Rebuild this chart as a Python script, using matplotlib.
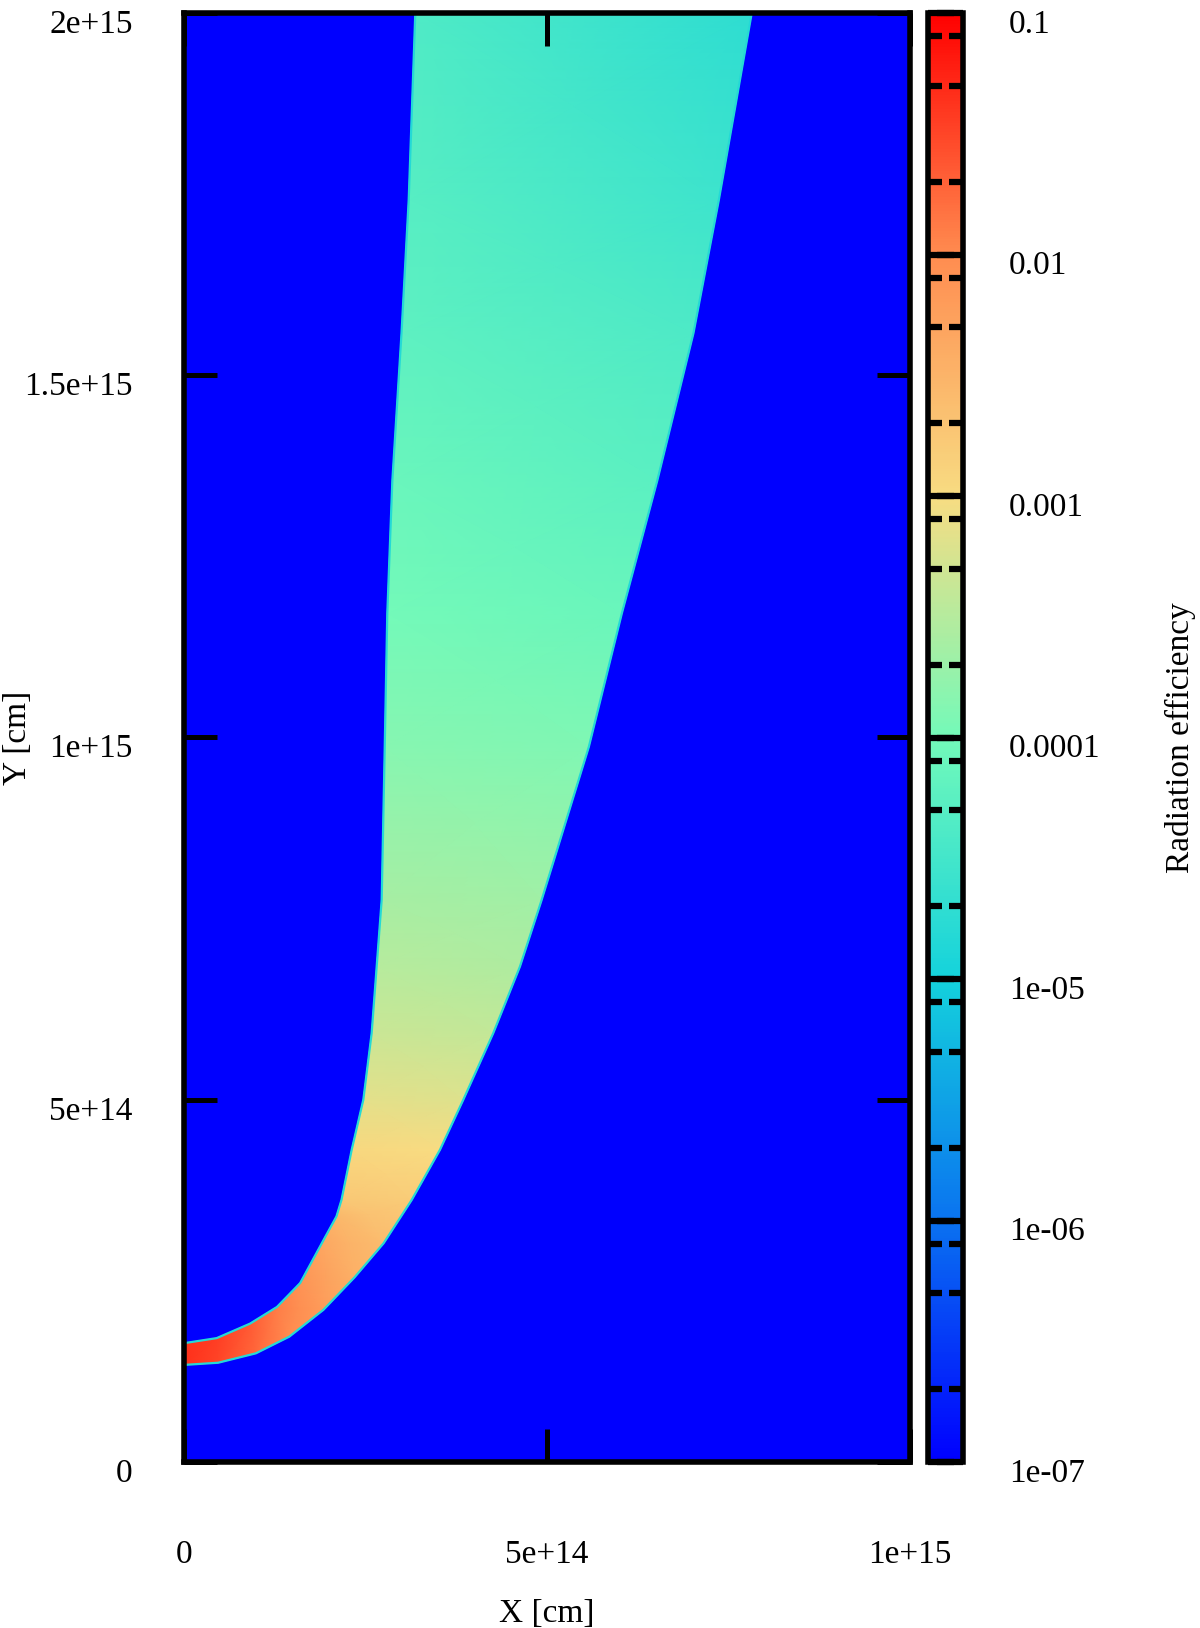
import numpy as np
import matplotlib
matplotlib.use("Agg")
import matplotlib.pyplot as plt
from matplotlib.colors import LinearSegmentedColormap, LogNorm
from matplotlib.transforms import ScaledTranslation

# ---------------- data ----------------
# band boundaries, units of 1e15 cm, matched station by station
upper_x = [0.000, 0.045, 0.091, 0.128, 0.160, 0.192, 0.210, 0.217, 0.231, 0.247,
           0.2585, 0.2654, 0.2723, 0.2765, 0.280, 0.287, 0.2996, 0.3095, 0.3186]
upper_y = [0.164, 0.171, 0.191, 0.214, 0.247, 0.306, 0.339, 0.362, 0.431, 0.500,
           0.592, 0.684, 0.776, 0.987, 1.171, 1.355, 1.558, 1.742, 2.000]
lower_x = [0.000, 0.047, 0.099, 0.145, 0.192, 0.235, 0.275, 0.3136, 0.3526, 0.3847,
           0.426, 0.4628, 0.4927, 0.5576, 0.603, 0.652, 0.7017, 0.7367, 0.782]
lower_y = [0.134, 0.137, 0.150, 0.173, 0.210, 0.255, 0.302, 0.3616, 0.431, 0.500,
           0.592, 0.684, 0.776, 0.987, 1.171, 1.355, 1.558, 1.742, 2.000]
# radiation efficiency along the upper/left and lower/right boundary
eff_upper = [0.0447, 0.0355, 0.0224, 0.0126, 0.00794, 0.00447, 0.00282, 0.00178, 0.00112,
             7.1e-4, 4.5e-4, 3.2e-4, 2.5e-4, 1.4e-4, 1.0e-4, 7.9e-5, 6.0e-5, 5.0e-5, 4.2e-5]
eff_lower = [0.0447, 0.0316, 0.0178, 0.0100, 0.00631, 0.00355, 0.00251, 0.00158, 0.00100,
             6.3e-4, 4.0e-4, 2.8e-4, 2.2e-4, 1.26e-4, 7.9e-5, 5.6e-5, 4.0e-5, 2.8e-5, 1.9e-5]
background_eff = 1e-7

x_ticks = [0, 5e14, 1e15]
x_tick_labels = ["0", "5e+14", "1e+15"]
y_ticks = [0, 5e14, 1e15, 1.5e15, 2e15]
y_tick_labels = ["0", "5e+14", "1e+15", "1.5e+15", "2e+15"]
cb_ticks = [1e-7, 1e-6, 1e-5, 1e-4, 1e-3, 1e-2, 1e-1]
cb_tick_labels = ["1e-07", "1e-06", "1e-05", "0.0001", "0.001", "0.01", "0.1"]
cb_minor_mult = [2, 5, 8]

# ---------------- style ----------------
plt.rcParams["font.family"] = ["Liberation Serif", "DejaVu Serif"]
plt.rcParams["font.size"] = 24

palette = ["#0000ff", "#0a73f0", "#14d2dc", "#73fab9", "#f8dc82", "#ff8c50", "#ff0000"]
cmap = LinearSegmentedColormap.from_list("rad", palette, N=512)
norm = LogNorm(vmin=1e-7, vmax=0.1)

W, H, DPI = 1200, 1628, 100
fig = plt.figure(figsize=(W / DPI, H / DPI), dpi=DPI)
L, R, T, B = 184, 910, 13, 1462
ax = fig.add_axes([L / W, 1 - B / H, (R - L) / W, (B - T) / H])
cax = fig.add_axes([927.5 / W, 1 - B / H, 35.5 / W, (B - T) / H])

ax.set_facecolor(cmap(norm(background_eff)))

scale = 1e15
X = np.column_stack([upper_x, lower_x]) * scale
Y = np.column_stack([upper_y, lower_y]) * scale
C = np.column_stack([eff_upper, eff_lower])
mesh = ax.pcolormesh(X, Y, C, shading="gouraud", cmap=cmap, norm=norm)

edge_col = cmap(norm(1.5e-5))
ax.plot(np.array(upper_x) * scale, np.array(upper_y) * scale, color=edge_col, lw=1.6)
ax.plot(np.array(lower_x) * scale, np.array(lower_y) * scale, color=edge_col, lw=1.6)

ax.set_xlim(0, 1e15)
ax.set_ylim(0, 2e15)

for sp in ax.spines.values():
    sp.set_linewidth(4)
    sp.set_zorder(5)

ax.set_xticks(x_ticks, labels=x_tick_labels)
ax.set_yticks(y_ticks, labels=y_tick_labels)
ax.tick_params(axis="both", direction="in", length=24, width=3.6,
               top=True, right=True, zorder=6)
ax.tick_params(axis="x", pad=56)
ax.tick_params(axis="y", pad=37)
ydown = ScaledTranslation(0, -8 / DPI, fig.dpi_scale_trans)
for lab in ax.get_yticklabels():
    lab.set_transform(lab.get_transform() + ydown)

ax.set_xlabel("X [cm]")
ax.xaxis.label.set_va("center")
ax.xaxis.set_label_coords(0.5, (B - 1614) / (B - T))
ax.set_ylabel("Y [cm]")
ax.yaxis.label.set_va("center")
ax.yaxis.set_label_coords((18 - L) / (R - L), 0.5)

# ---------------- colorbar ----------------
cbar = fig.colorbar(mesh, cax=cax)
cbar.outline.set_linewidth(4)
cax.set_yticks(cb_ticks, labels=cb_tick_labels)
minor = [m * t for t in cb_ticks[:-1] for m in cb_minor_mult]
cax.set_yticks(minor, minor=True)
cax.yaxis.set_minor_formatter(matplotlib.ticker.NullFormatter())
cax.tick_params(which="major", direction="in", length=19, width=4.5,
                left=True, right=True, labelleft=False, labelright=True, pad=33)
cax.tick_params(which="minor", direction="in", length=10, width=4.5,
                left=True, right=True)
cdown = ScaledTranslation(0, -8 / DPI, fig.dpi_scale_trans)
for lab in cax.get_yticklabels():
    lab.set_transform(lab.get_transform() + cdown)
cbar.set_label("Radiation efficiency", rotation=90)
cax.yaxis.label.set_va("center")
cax.yaxis.set_label_coords((1180 - 927.5) / 35.5, 0.5)

fig.savefig("out.png", dpi=DPI)
